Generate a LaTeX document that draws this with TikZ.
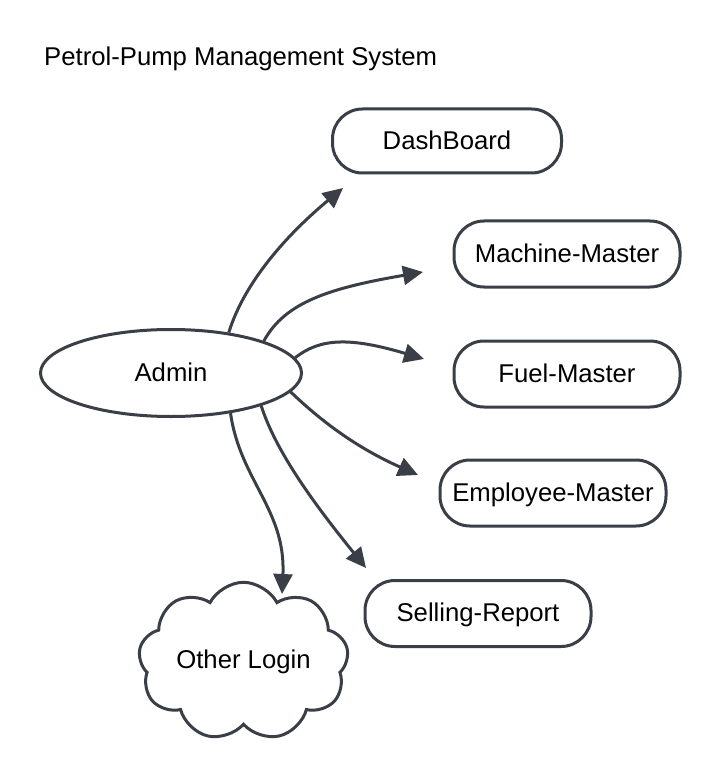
\documentclass[tikz,border=0pt]{standalone}
\usepackage{fontspec}
\setmainfont{Liberation Sans}
\usetikzlibrary{arrows.meta,shapes.geometric,shapes.symbols}
\definecolor{edge}{HTML}{3A3F47}
\begin{document}
\begin{tikzpicture}[x=1pt,y=-1pt,
  every node/.style={font=\fontsize{25.7}{30}\selectfont, text=black},
  pill/.style={draw=edge, line width=3pt, rounded corners=30pt, minimum width=226pt, minimum height=66pt, fill=white, text height=18.5pt, text depth=2pt},
  conn/.style={draw=edge, line width=3pt, -{Triangle[length=20pt,width=19pt]}}]
\useasboundingbox[fill=white] (0,0) rectangle (721,775);
\node[anchor=base west, inner sep=0pt] (title) at (44,66) {Petrol-Pump Management System};
\node[pill, minimum width=229pt, minimum height=64pt] (dash) at (447,141) {DashBoard};
\node[pill] (mach) at (567,254) {Machine-Master};
\node[pill] (fuel) at (567,374) {Fuel-Master};
\node[pill] (emp) at (553,493) {Employee-Master};
\node[pill] (sell) at (478,613.5) {Selling-Report};
\node[ellipse, draw=edge, line width=3pt, minimum width=261pt, minimum height=87pt, text height=18.5pt, text depth=2pt] (admin) at (171,373) {Admin};
\node[cloud, draw=edge, line width=3pt, cloud puffs=9, cloud puff arc=125, aspect=1.5, minimum width=210pt, minimum height=134pt, inner sep=0pt] (cloud) at (243.5,661.5) {Other Login};
\coordinate (tdash) at (343,188);
\coordinate (tmach) at (423,272);
\coordinate (tfuel) at (424,359);
\coordinate (temp) at (418,475);
\coordinate (tsell) at (366,568);
\coordinate (tcloud) at (282,594);
\draw[conn] (admin.35) .. controls (245,280) and (290,232) .. (tdash);
\draw[conn] (admin.19) .. controls (285,302) and (330,288) .. (tmach);
\draw[conn] (admin.7) .. controls (320,338) and (350,337) .. (tfuel);
\draw[conn] (admin.-9) .. controls (320,420) and (355,447) .. (temp);
\draw[conn] (admin.-20) .. controls (276,452) and (315,505) .. (tsell);
\draw[conn] (admin.-34) .. controls (240,480) and (286,510) .. (tcloud);
\end{tikzpicture}
\end{document}
